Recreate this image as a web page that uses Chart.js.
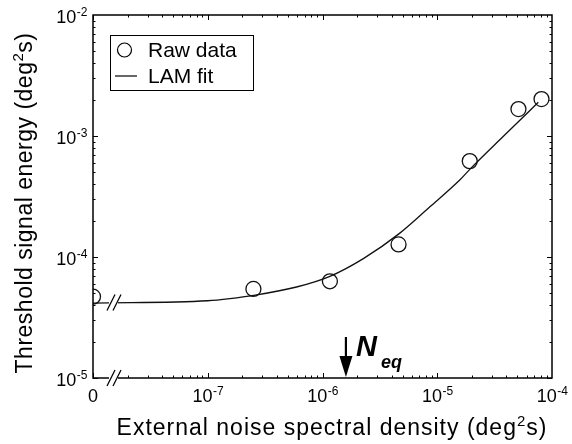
<!DOCTYPE html>
<html>
<head>
<meta charset="utf-8">
<script src="https://cdn.jsdelivr.net/npm/chart.js@4/dist/chart.umd.min.js"></script>
<style>
  html, body { margin: 0; padding: 0; background: #fff; }
  #wrap { width: 572px; height: 444px; }
</style>
</head>
<body>
<div id="wrap"><canvas id="lamChart" width="572" height="444"></canvas></div>
<script>
// Raw data (external noise N in deg^2 s, threshold energy in deg^2 s)
const noiseLevels = [0, 2.5e-7, 1.16e-6, 4.6e-6, 1.92e-5, 5.1e-5, 8.1e-5];
const thresholdEnergy = [4.7e-5, 5.45e-5, 6.3e-5, 1.27e-4, 6.2e-4, 1.67e-3, 2.02e-3];

// LAM fit curve
const fitNoise = [0, 1e-7, 1.56e-7, 2.52e-7, 5.94e-7, 1.16e-6, 2.27e-6, 4.66e-6, 8.63e-6, 1.57e-5, 1.92e-5, 3.75e-5, 7.6e-5];
const fitEnergy = [4.16e-5, 4.35e-5, 4.53e-5, 4.82e-5, 5.65e-5, 6.92e-5, 9.7e-5, 1.56e-4, 2.6e-4, 4.33e-4, 5.3e-4, 9.9e-4, 1.9e-3];

// Axis ticks
const xDecades = [-8, -7, -6, -5, -4];
const xTickLabels = ["0", "-7", "-6", "-5", "-4"];
const yDecades = [-5, -4, -3, -2];
const neqValue = 1.6e-6;

// zero noise is drawn at the left edge of the log axis (axis break)
const ZERO_AT = 1e-8;
const toX = v => (v === 0 ? ZERO_AT : v);

const FONT = "'Liberation Sans', Arial, Helvetica, sans-serif";

// draws a "10^n" label; align: 'right' or 'center'
function powerLabel(ctx, x, baseline, exp, align) {
  ctx.font = "18px " + FONT;
  const baseW = ctx.measureText("10").width;
  ctx.font = "12px " + FONT;
  const supW = ctx.measureText(exp).width;
  const total = baseW + supW;
  let left = align === "right" ? x - total : x - total / 2;
  ctx.textAlign = "left";
  ctx.textBaseline = "alphabetic";
  ctx.font = "18px " + FONT;
  ctx.fillText("10", left, baseline);
  ctx.font = "12px " + FONT;
  ctx.fillText(exp, left + baseW + 0.5, baseline - 7.5);
}

function breakMark(ctx, x, y) {
  ctx.save();
  ctx.fillStyle = "#fff";
  ctx.fillRect(x - 5, y - 2, 9, 4);
  ctx.strokeStyle = "#000";
  ctx.lineWidth = 1.2;
  [-3, 3].forEach(dx => {
    ctx.beginPath();
    ctx.moveTo(x + dx - 4, y + 8);
    ctx.lineTo(x + dx + 4, y - 8);
    ctx.stroke();
  });
  ctx.restore();
}

// text with a superscript "2" before the final "s)"
function titleText(ctx, head, cx, baseline, size) {
  ctx.textAlign = "left";
  ctx.font = size + "px " + FONT;
  const w1 = ctx.measureText(head).width;
  const w3 = ctx.measureText("s)").width;
  ctx.font = Math.round(size * 0.65) + "px " + FONT;
  const w2 = ctx.measureText("2").width;
  const left = cx - (w1 + w2 + w3) / 2;
  ctx.font = size + "px " + FONT;
  ctx.fillText(head, left, baseline);
  ctx.font = Math.round(size * 0.65) + "px " + FONT;
  ctx.fillText("2", left + w1, baseline - size * 0.38);
  ctx.font = size + "px " + FONT;
  ctx.fillText("s)", left + w1 + w2, baseline);
}

const framePlugin = {
  id: "frame",
  afterDatasetsDraw(chart) {
    const { ctx, chartArea: a, scales } = chart;
    const xs = scales.x, ys = scales.y;
    ctx.save();
    ctx.strokeStyle = "#000";
    ctx.fillStyle = "#000";

    // frame
    ctx.lineWidth = 1.5;
    ctx.strokeRect(a.left, a.top, a.right - a.left, a.bottom - a.top);

    // inward ticks on all four sides
    ctx.lineWidth = 1;
    for (let d = -8; d < -4; d++) {
      for (let m = 1; m <= 9; m++) {
        const px = Math.round(xs.getPixelForValue(m * Math.pow(10, d))) + 0.5;
        const len = m === 1 ? 5 : 2.5;
        ctx.beginPath();
        ctx.moveTo(px, a.bottom); ctx.lineTo(px, a.bottom - len);
        ctx.moveTo(px, a.top); ctx.lineTo(px, a.top + len);
        ctx.stroke();
      }
    }
    for (let d = -5; d < -2; d++) {
      for (let m = 1; m <= 9; m++) {
        const py = Math.round(ys.getPixelForValue(m * Math.pow(10, d))) + 0.5;
        const len = m === 1 ? 5 : 2.5;
        ctx.beginPath();
        ctx.moveTo(a.left, py); ctx.lineTo(a.left + len, py);
        ctx.moveTo(a.right, py); ctx.lineTo(a.right - len, py);
        ctx.stroke();
      }
    }

    // tick labels
    yDecades.forEach(d => {
      const py = ys.getPixelForValue(Math.pow(10, d));
      powerLabel(ctx, a.left - 6, py + 8, String(d), "right");
    });
    xDecades.forEach((d, i) => {
      const px = xs.getPixelForValue(Math.pow(10, d));
      if (xTickLabels[i] === "0") {
        ctx.font = "18px " + FONT;
        ctx.textAlign = "center";
        ctx.fillText("0", px, 402);
      } else {
        powerLabel(ctx, px, 402, xTickLabels[i], "center");
      }
    });

    // axis breaks
    breakMark(ctx, a.left + 21, a.bottom);
    breakMark(ctx, a.left + 21, ys.getPixelForValue(4.2e-5));

    // N_eq arrow
    const ax = xs.getPixelForValue(neqValue);
    ctx.lineWidth = 2.2;
    ctx.beginPath();
    ctx.moveTo(ax, 337); ctx.lineTo(ax, 362);
    ctx.stroke();
    ctx.beginPath();
    ctx.moveTo(ax - 6.5, 356); ctx.lineTo(ax + 6.5, 356); ctx.lineTo(ax, a.bottom - 1);
    ctx.closePath();
    ctx.fill();
    ctx.textAlign = "left";
    ctx.font = "bold italic 29px " + FONT;
    ctx.fillText("N", ax + 10, 356);
    ctx.font = "bold italic 18px " + FONT;
    ctx.fillText("eq", ax + 35, 368);

    // legend
    ctx.lineWidth = 1;
    ctx.strokeRect(110.5, 35.5, 143, 55);
    ctx.lineWidth = 1.2;
    ctx.beginPath();
    ctx.arc(124.5, 50, 7, 0, Math.PI * 2);
    ctx.stroke();
    ctx.beginPath();
    ctx.moveTo(115, 76); ctx.lineTo(137, 76);
    ctx.stroke();
    ctx.font = "21px " + FONT;
    ctx.fillText("Raw data", 148, 57);
    ctx.fillText("LAM fit", 148, 83);

    // axis titles
    ctx.save();
    ctx.letterSpacing = "1px";
    titleText(ctx, "External noise spectral density (deg", 332, 435, 23);
    ctx.restore();

    ctx.letterSpacing = "0.5px";
    ctx.translate(32, 203);
    ctx.rotate(-Math.PI / 2);
    titleText(ctx, "Threshold signal energy (deg", 0, 0, 23);
    ctx.restore();
  }
};

const ctx = document.getElementById("lamChart").getContext("2d");
new Chart(ctx, {
  type: "scatter",
  data: {
    datasets: [
      {
        label: "LAM fit",
        data: fitNoise.map((n, i) => ({ x: toX(n), y: fitEnergy[i] })),
        showLine: true,
        borderColor: "#111",
        borderWidth: 1.3,
        pointRadius: 0,
        cubicInterpolationMode: "monotone",
        order: 2
      },
      {
        label: "Raw data",
        data: noiseLevels.map((n, i) => ({ x: toX(n), y: thresholdEnergy[i] })),
        showLine: false,
        pointRadius: 7.5,
        pointBorderWidth: 1.3,
        pointBackgroundColor: "rgba(0,0,0,0)",
        pointBorderColor: "#111",
        order: 1
      }
    ]
  },
  options: {
    responsive: false,
    animation: false,
    layout: { padding: { left: 93, right: 20, top: 15, bottom: 66 } },
    plugins: { legend: { display: false }, tooltip: { enabled: false } },
    scales: {
      x: { type: "logarithmic", min: 1e-8, max: 1e-4, display: false },
      y: { type: "logarithmic", min: 1e-5, max: 1e-2, display: false }
    }
  },
  plugins: [framePlugin]
});
</script>
</body>
</html>
